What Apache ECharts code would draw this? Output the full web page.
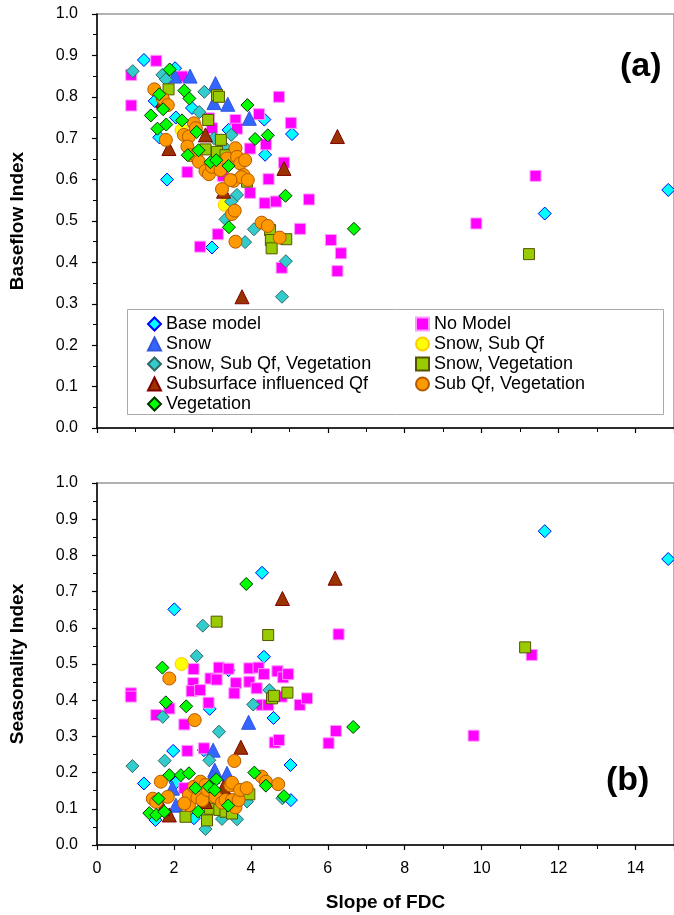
<!DOCTYPE html>
<html>
<head>
<meta charset="utf-8">
<script src="https://cdn.jsdelivr.net/npm/echarts@6/dist/echarts.min.js"></script>
<style>
html, body { margin: 0; padding: 0; background: #fff; }
#main { width: 674px; height: 915px; }
</style>
</head>
<body>
<div id="main"></div>
<script>
// series names, in drawing order (later ones sit on top)
var seriesNames = ['Base model', 'No Model', 'Snow', 'Snow, Sub Qf', 'Snow, Sub Qf, Vegetation',
    'Snow, Vegetation', 'Subsurface influenced Qf', 'Sub Qf, Vegetation', 'Vegetation'];

var xTicks = [0, 2, 4, 6, 8, 10, 12, 14];
var yTicks = [0.0, 0.1, 0.2, 0.3, 0.4, 0.5, 0.6, 0.7, 0.8, 0.9, 1.0];

// panel (a): [slope of FDC, baseflow index]
var baseA = [[1.22,0.889],[2.03,0.869],[1.50,0.790],[2.47,0.773],[2.05,0.750],[1.62,0.702],[1.82,0.600],
    [3.42,0.720],[4.35,0.745],[5.07,0.710],[4.37,0.660],[2.99,0.436],[11.64,0.518],[14.85,0.575]];
var noModelA = [[1.54,0.887],[0.89,0.853],[0.89,0.779],[2.21,0.849],[4.73,0.800],[4.21,0.758],[5.04,0.737],
    [3.60,0.744],[3.64,0.723],[2.91,0.748],[2.99,0.724],[4.39,0.685],[3.98,0.675],[4.86,0.641],[3.27,0.609],
    [4.46,0.601],[3.98,0.568],[4.36,0.543],[4.65,0.547],[5.51,0.552],[2.35,0.618],[5.28,0.481],[6.08,0.454],
    [6.34,0.422],[6.25,0.379],[4.80,0.387],[2.68,0.438],[3.14,0.468],[11.40,0.609],[9.86,0.494]];
var snowA = [[2.02,0.850],[2.42,0.850],[3.08,0.832],[3.04,0.786],[3.40,0.782],[3.96,0.748]];
var snowSubA = [[2.20,0.720],[3.32,0.539]];
var snowSubVegA = [[0.93,0.862],[1.70,0.853],[1.79,0.842],[2.79,0.812],[2.66,0.763],[3.04,0.700],[3.30,0.680],
    [3.49,0.708],[3.64,0.563],[3.49,0.547],[3.34,0.504],[4.08,0.480],[3.85,0.449],[4.91,0.403],[4.81,0.317]];
var snowVegA = [[1.86,0.818],[3.12,0.804],[3.17,0.800],[2.89,0.744],[3.22,0.696],[2.82,0.673],[3.12,0.667],
    [3.34,0.659],[3.90,0.595],[4.50,0.478],[4.52,0.454],[4.54,0.434],[4.92,0.456],[11.23,0.420]];
var subQfA = [[1.71,0.790],[1.87,0.675],[2.82,0.708],[3.29,0.572],[4.86,0.627],[6.25,0.704],[3.77,0.317]];
var subVegA = [[1.49,0.818],[1.71,0.796],[1.84,0.780],[1.79,0.696],[2.26,0.708],[2.39,0.704],[2.52,0.736],
    [2.57,0.724],[2.35,0.680],[2.44,0.659],[2.57,0.659],[2.65,0.643],[2.82,0.621],[2.91,0.613],[2.99,0.631],
    [3.21,0.623],[3.38,0.651],[3.60,0.676],[3.64,0.655],[3.72,0.639],[3.85,0.647],[3.81,0.611],[3.55,0.597],
    [3.75,0.606],[3.92,0.599],[3.47,0.599],[3.25,0.577],[3.51,0.517],[3.58,0.525],[4.28,0.496],[4.44,0.488],
    [4.75,0.460],[3.60,0.450]];
var vegA = [[1.89,0.866],[2.27,0.815],[2.40,0.796],[1.62,0.806],[1.72,0.770],[1.40,0.755],[1.57,0.723],
    [1.80,0.733],[2.21,0.743],[2.59,0.715],[2.64,0.671],[2.36,0.659],[2.95,0.642],[3.10,0.647],[3.42,0.633],
    [3.91,0.780],[4.11,0.698],[4.44,0.707],[4.90,0.561],[3.43,0.485],[6.68,0.481]];

// panel (b): [slope of FDC, seasonality index]
var baseB = [[2.01,0.651],[4.29,0.752],[4.34,0.520],[3.42,0.483],[2.93,0.376],[4.59,0.351],[1.98,0.260],
    [2.78,0.262],[5.03,0.221],[1.22,0.170],[2.05,0.172],[5.04,0.124],[1.52,0.069],[2.52,0.074],
    [11.64,0.867],[14.85,0.790]];
var noModelB = [[0.88,0.419],[0.88,0.410],[1.54,0.359],[1.88,0.377],[2.27,0.333],[2.35,0.260],[2.78,0.267],
    [2.27,0.157],[2.51,0.486],[2.50,0.447],[2.46,0.425],[2.68,0.428],[2.90,0.393],[2.95,0.460],[3.11,0.457],
    [3.17,0.490],[3.42,0.487],[3.61,0.447],[3.57,0.419],[3.96,0.488],[3.96,0.451],[4.20,0.490],[4.15,0.433],
    [4.34,0.472],[4.28,0.387],[4.45,0.387],[4.69,0.480],[4.84,0.463],[4.97,0.472],[4.80,0.410],[5.27,0.387],
    [5.46,0.405],[4.62,0.283],[4.73,0.290],[6.02,0.281],[6.21,0.315],[6.28,0.582],[9.79,0.302],[11.30,0.525]];
var snowB = [[3.94,0.339],[3.02,0.262],[3.06,0.207],[3.38,0.198],[3.01,0.189],[1.96,0.157],[2.05,0.110]];
var snowSubB = [[2.20,0.500],[3.30,0.120]];
var snowSubVegB = [[2.75,0.606],[2.59,0.522],[4.48,0.428],[4.06,0.388],[1.71,0.354],[3.17,0.313],[1.76,0.233],
    [2.92,0.234],[0.92,0.218],[3.90,0.120],[4.82,0.129],[3.64,0.071],[3.25,0.072],[2.82,0.044]];
var snowVegB = [[3.11,0.617],[4.45,0.580],[4.95,0.421],[4.55,0.405],[4.60,0.412],[3.96,0.140],[3.00,0.124],
    [2.93,0.100],[3.18,0.097],[3.34,0.092],[3.51,0.087],[2.30,0.078],[2.86,0.068],[11.13,0.546]];
var subQfB = [[1.88,0.083],[3.29,0.160],[3.74,0.270],[4.82,0.681],[6.19,0.737],[2.82,0.120],[1.71,0.100]];
var subVegB = [[1.88,0.460],[2.54,0.345],[3.57,0.232],[4.28,0.189],[4.39,0.175],[4.71,0.168],[1.66,0.175],
    [1.45,0.128],[1.54,0.119],[1.84,0.133],[2.35,0.120],[2.39,0.110],[2.39,0.138],[2.27,0.115],[2.52,0.161],
    [2.61,0.131],[2.69,0.175],[2.74,0.124],[2.82,0.166],[2.87,0.152],[3.08,0.133],[3.25,0.117],[3.34,0.124],
    [3.47,0.165],[3.51,0.172],[3.51,0.124],[3.60,0.104],[3.68,0.124],[3.72,0.152],[3.89,0.157]];
var vegB = [[1.70,0.490],[1.79,0.394],[2.32,0.383],[3.88,0.721],[6.66,0.326],[1.88,0.193],[2.18,0.193],
    [2.39,0.198],[3.10,0.181],[4.09,0.200],[4.39,0.164],[4.86,0.135],[2.56,0.157],[2.91,0.161],[3.06,0.152],
    [1.60,0.128],[1.36,0.088],[1.54,0.083],[1.75,0.092],[2.63,0.092],[3.41,0.109]];

var panelA = [baseA, noModelA, snowA, snowSubA, snowSubVegA, snowVegA, subQfA, subVegA, vegA];
var panelB = [baseB, noModelB, snowB, snowSubB, snowSubVegB, snowVegB, subQfB, subVegB, vegB];

// marker look per series
var markers = [
    { symbol: 'diamond',  size: 13, fill: '#00FFFF', stroke: '#0000FF' },
    { symbol: 'rect',     size: 11, fill: '#FF00FF', stroke: '#FF99FF' },
    { symbol: 'triangle', size: 14, fill: '#3366FF', stroke: '#3355DD' },
    { symbol: 'circle',   size: 13, fill: '#FFFF00', stroke: '#FFCC00' },
    { symbol: 'diamond',  size: 13, fill: '#33CCCC', stroke: '#336666' },
    { symbol: 'rect',     size: 11, fill: '#99CC00', stroke: '#555500' },
    { symbol: 'triangle', size: 14, fill: '#993300', stroke: '#800000' },
    { symbol: 'circle',   size: 13, fill: '#FF9900', stroke: '#B35900' },
    { symbol: 'diamond',  size: 13, fill: '#00FF00', stroke: '#003300' }
];

var fontName = 'Liberation Sans';

function makeSeries(data, idx, panel) {
    var m = markers[idx];
    return {
        name: seriesNames[idx],
        type: 'scatter',
        xAxisIndex: panel,
        yAxisIndex: panel,
        symbol: m.symbol,
        symbolSize: m.size,
        data: data,
        itemStyle: { color: m.fill, borderColor: m.stroke, borderWidth: 1, opacity: 1 },
        emphasis: { disabled: true }
    };
}

function xAxisFor(panel) {
    return {
        type: 'value',
        gridIndex: panel,
        min: xTicks[0],
        max: 15,
        interval: xTicks[1] - xTicks[0],
        axisLine: { onZero: false, lineStyle: { color: '#000', width: 1.5 } },
        axisTick: { show: true, length: 5, lineStyle: { color: '#000', width: 1.2 } },
        minorTick: { show: true, splitNumber: 2, length: 4, lineStyle: { color: '#000', width: 1 } },
        splitLine: { show: false },
        axisLabel: {
            show: panel === 1, showMaxLabel: false, margin: 16,
            fontFamily: fontName, fontSize: 16, color: '#000'
        },
        name: panel === 1 ? 'Slope of FDC' : '',
        nameLocation: 'middle',
        nameGap: 48,
        nameTextStyle: { fontFamily: fontName, fontSize: 19, fontWeight: 'bold', color: '#000' }
    };
}

function yAxisFor(panel, title) {
    return {
        type: 'value',
        gridIndex: panel,
        min: yTicks[0],
        max: yTicks[yTicks.length - 1],
        interval: 0.1,
        axisLine: { lineStyle: { color: '#000', width: 1.5 } },
        axisTick: { show: true, length: 5, lineStyle: { color: '#000', width: 1.2 } },
        minorTick: { show: true, splitNumber: 2, length: 4, lineStyle: { color: '#000', width: 1 } },
        splitLine: { show: false },
        axisLabel: {
            margin: 19, fontFamily: fontName, fontSize: 16, color: '#000',
            formatter: function (v) { return v.toFixed(1); }
        },
        name: title,
        nameLocation: 'middle',
        nameGap: 70,
        nameTextStyle: { fontFamily: fontName, fontSize: 19, fontWeight: 'bold', color: '#000' }
    };
}

var seriesList = [];
panelA.forEach(function (d, i) { seriesList.push(makeSeries(d, i, 0)); });
panelB.forEach(function (d, i) { seriesList.push(makeSeries(d, i, 1)); });

var legendText = { fontFamily: fontName, fontSize: 18, color: '#000' };

var option = {
    animation: false,
    backgroundColor: '#fff',
    grid: [
        { left: 97, top: 14, width: 583, height: 414, show: true, borderColor: '#999', borderWidth: 1.5 },
        { left: 97, top: 483, width: 583, height: 362, show: true, borderColor: '#999', borderWidth: 1.5 }
    ],
    xAxis: [xAxisFor(0), xAxisFor(1)],
    yAxis: [yAxisFor(0, 'Baseflow Index'), yAxisFor(1, 'Seasonality Index')],
    legend: [
        {
            orient: 'vertical', left: 142, top: 310, selectedMode: false,
            itemWidth: 13, itemHeight: 13, itemGap: 2,
            textStyle: legendText,
            data: [seriesNames[0], seriesNames[2], seriesNames[4], seriesNames[6], seriesNames[8]]
        },
        {
            orient: 'vertical', left: 410, top: 310, selectedMode: false,
            itemWidth: 13, itemHeight: 13, itemGap: 2,
            textStyle: legendText,
            data: [seriesNames[1], seriesNames[3], seriesNames[5], seriesNames[7]]
        }
    ],
    graphic: [
        {
            type: 'rect', left: 127, top: 309, z: 0,
            shape: { width: 536, height: 105 },
            style: { fill: '#fff', stroke: '#aaa', lineWidth: 1 }
        },
        {
            type: 'text', left: 620, top: 50,
            style: { text: '(a)', font: 'bold 34px "Liberation Sans"', fill: '#000' }
        },
        {
            type: 'text', left: 606, top: 764,
            style: { text: '(b)', font: 'bold 34px "Liberation Sans"', fill: '#000' }
        }
    ],
    series: seriesList
};

var myChart = echarts.init(document.getElementById('main'));
myChart.setOption(option);
</script>
</body>
</html>
